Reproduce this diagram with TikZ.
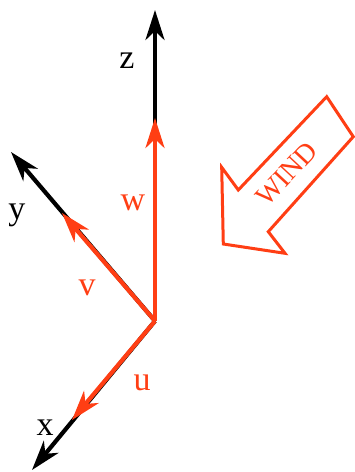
\documentclass[tikz,border=0pt]{standalone}
\usepackage{fontspec}
\setmainfont{Liberation Serif}
\usetikzlibrary{arrows.meta}

\definecolor{windred}{RGB}{255,62,20}

\begin{document}
\begin{tikzpicture}[
  x=1pt, y=-1pt,
  axis/.style={line width=4.2pt, black,
    -{Stealth[length=30pt, width=19pt, inset=9pt]}},
  comp/.style={line width=4.2pt, windred,
    -{Stealth[length=30pt, width=19pt, inset=9pt]}},
  lbl/.style={anchor=base, inner sep=0pt, font=\fontsize{34}{40}\selectfont},
  redlbl/.style={lbl, text=windred},
  windbox/.style={draw=windred, line width=3pt, line join=miter, fill=white},
]
\useasboundingbox (0,0) rectangle (355,472);

% ---- origin and axis ends ---------------------------------------------------
\coordinate (O)  at (155,321);
\coordinate (xe) at (32,470);
\coordinate (ye) at (11,152);
\coordinate (ze) at (155,10);

% ---- velocity components ----------------------------------------------------
\coordinate (ue) at (72,420);
\coordinate (ve) at (62,213);
\coordinate (we) at (155,118);

% ---- black axes ---------------------------------------------------------------
\draw[axis] (O) -- (xe);
\draw[axis] (O) -- (ye);
\draw[axis] (O) -- (ze);

% ---- red components on top ----------------------------------------------------
\draw[comp] (O) -- (ue);
\draw[comp] (O) -- (ve);
\draw[comp] (O) -- (we);

% ---- labels -------------------------------------------------------------------
\node[lbl] (xl) at (45,435) {x};
\node[lbl] (yl) at (17,219) {y};
\node[lbl] (zl) at (127,68) {z};
\node[redlbl] (ul) at (142,390) {u};
\node[redlbl] (vl) at (87,295) {v};
\node[redlbl] (wl) at (133,210) {w};

% ---- wind block arrow -------------------------------------------------------
\draw[windbox] (326.7,96.7) -- (353.3,136.7) -- (268.3,231.7) -- (285,253.3)
  -- (223.3,244) -- (221.7,167.3) -- (238.3,190) -- cycle;
\node[text=windred, rotate=47, inner sep=0pt,
  font=\fontsize{28}{32}\selectfont] (wind) at (287,174) {WIND};

\end{tikzpicture}
\end{document}
